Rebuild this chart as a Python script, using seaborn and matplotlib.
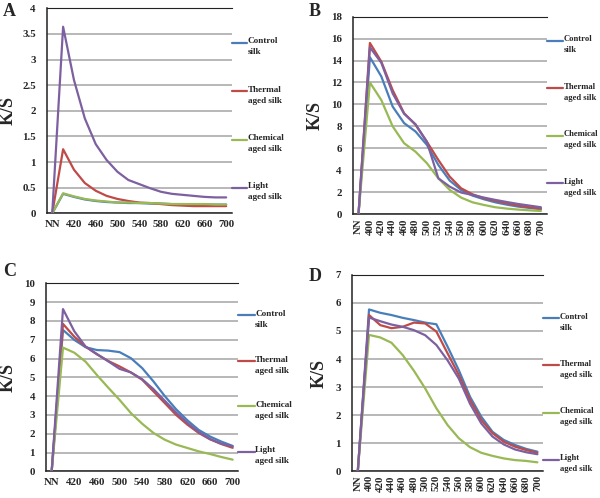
import matplotlib

matplotlib.use("Agg")
import matplotlib.pyplot as plt
import numpy as np
import pandas as pd
import seaborn as sns

# category axis: "NN" then 400..700 nm
WAVELENGTHS = ["NN"] + [str(w) for w in range(400, 701, 20)]
SERIES = ["Control silk", "Thermal aged silk", "Chemical aged silk", "Light aged silk"]
LEGEND_LABELS = ["Control\nsilk", "Thermal\naged silk", "Chemical\naged silk", "Light\naged silk"]
COLORS = ["#4A7EBB", "#BE4B48", "#98B954", "#7D60A0"]

A_CONTROL = [0, 0.38, 0.32, 0.27, 0.24, 0.22, 0.21, 0.20, 0.20, 0.19, 0.19, 0.18, 0.18, 0.17, 0.17, 0.17, 0.17]
A_THERMAL = [0, 1.25, 0.85, 0.59, 0.44, 0.34, 0.28, 0.24, 0.21, 0.20, 0.18, 0.16, 0.15, 0.14, 0.14, 0.14, 0.14]
A_CHEMICAL = [0, 0.39, 0.33, 0.28, 0.25, 0.23, 0.21, 0.21, 0.20, 0.20, 0.19, 0.18, 0.18, 0.18, 0.18, 0.17, 0.17]
A_LIGHT = [0, 3.64, 2.60, 1.85, 1.35, 1.04, 0.81, 0.65, 0.57, 0.49, 0.42, 0.38, 0.36, 0.34, 0.32, 0.31, 0.31]

B_CONTROL = [0, 14.3, 12.55, 9.8, 8.3, 7.54, 6.32, 4.5, 3.07, 2.22, 1.7, 1.37, 1.09, 0.88, 0.70, 0.58, 0.46]
B_THERMAL = [0, 15.6, 13.9, 11.3, 9.2, 8.15, 6.6, 4.95, 3.43, 2.37, 1.82, 1.46, 1.22, 1.0, 0.79, 0.64, 0.52]
B_CHEMICAL = [0, 12.0, 10.4, 8.0, 6.47, 5.7, 4.65, 3.28, 2.22, 1.52, 1.09, 0.85, 0.64, 0.52, 0.43, 0.36, 0.30]
B_LIGHT = [0, 15.2, 13.8, 11.0, 9.15, 8.2, 6.6, 3.28, 2.52, 1.98, 1.76, 1.52, 1.31, 1.12, 0.94, 0.79, 0.64]

C_CONTROL = [0, 7.52, 6.99, 6.6, 6.45, 6.42, 6.34, 6.02, 5.49, 4.78, 4.0, 3.3, 2.71, 2.2, 1.85, 1.58, 1.35]
C_THERMAL = [0, 7.84, 7.16, 6.63, 6.22, 5.87, 5.58, 5.26, 4.87, 4.25, 3.63, 3.0, 2.48, 2.04, 1.7, 1.45, 1.25]
C_CHEMICAL = [0, 6.58, 6.31, 5.83, 5.12, 4.45, 3.8, 3.1, 2.53, 2.04, 1.68, 1.42, 1.24, 1.06, 0.92, 0.76, 0.62]
C_LIGHT = [0, 8.63, 7.45, 6.63, 6.24, 5.85, 5.45, 5.26, 4.9, 4.37, 3.75, 3.13, 2.57, 2.09, 1.72, 1.47, 1.32]

D_CONTROL = [0, 5.77, 5.65, 5.57, 5.47, 5.39, 5.3, 5.24, 4.44, 3.6, 2.65, 1.94, 1.4, 1.11, 0.93, 0.79, 0.69]
D_THERMAL = [0, 5.57, 5.21, 5.1, 5.15, 5.3, 5.27, 4.98, 4.2, 3.43, 2.54, 1.82, 1.35, 1.05, 0.87, 0.75, 0.65]
D_CHEMICAL = [0, 4.86, 4.77, 4.58, 4.14, 3.58, 2.95, 2.24, 1.64, 1.17, 0.85, 0.65, 0.54, 0.45, 0.39, 0.36, 0.31]
D_LIGHT = [0, 5.48, 5.35, 5.23, 5.15, 5.03, 4.85, 4.5, 3.95, 3.3, 2.4, 1.7, 1.23, 0.95, 0.77, 0.67, 0.60]


def long_form(columns):
    frames = []
    for name, vals in zip(SERIES, columns):
        frames.append(pd.DataFrame({"pos": np.arange(len(WAVELENGTHS)), "ks": vals, "series": name}))
    return pd.concat(frames, ignore_index=True)


def draw_panel(fig, rect, letter, letter_xy, columns, ymax, ystep, rotate, legend_top, legend_step,
               ylabel_x, legend_size):
    ax = fig.add_axes(rect)
    df = long_form(columns)
    sns.lineplot(data=df, x="pos", y="ks", hue="series", hue_order=SERIES, palette=COLORS,
                 sort=False, linewidth=1.6, legend=False, ax=ax, zorder=3)
    ax.set_xlim(-0.5, len(WAVELENGTHS) - 0.5)
    ax.set_ylim(0, ymax)
    yt = np.arange(0, ymax + ystep / 2, ystep)
    ax.set_yticks(yt)
    ax.set_yticklabels([f"{v:g}" for v in yt])
    if rotate:
        ax.set_xticks(np.arange(len(WAVELENGTHS)))
        ax.set_xticklabels(WAVELENGTHS, rotation=90, va="top", ha="center")
        ax.tick_params(axis="x", pad=3)
    else:
        ax.set_xticks(np.arange(0, len(WAVELENGTHS), 2))
        ax.set_xticklabels(WAVELENGTHS[::2])
        ax.tick_params(axis="x", pad=5)
    ax.tick_params(axis="both", length=0, labelsize=7.8)
    ax.tick_params(axis="y", pad=8)
    ax.set_xlabel("")
    ax.set_ylabel("K/S", fontsize=13, fontweight="bold")
    ax.yaxis.set_label_coords(ylabel_x, 0.5)
    ax.xaxis.grid(False)
    # horizontal gridlines at every y tick, Excel style
    ax.yaxis.grid(True, color="#ababab", linewidth=1.2, linestyle="-", alpha=1.0)
    ax.set_axisbelow(True)
    for side in ["left", "bottom", "top"]:
        ax.spines[side].set_visible(True)
        ax.spines[side].set_color("#222222")
    ax.spines["left"].set_linewidth(1.1)
    ax.spines["bottom"].set_linewidth(1.1)
    ax.spines["top"].set_linewidth(0.8)
    ax.spines["right"].set_visible(False)

    # legend keys beside the plot, key aligned with first text line
    for i, (lab, col) in enumerate(zip(LEGEND_LABELS, COLORS)):
        y = legend_top - i * legend_step
        ax.plot([1.0, 1.085], [y, y], transform=ax.transAxes, color=col, lw=1.6, clip_on=False)
        ax.text(1.088, y + 0.028, lab, transform=ax.transAxes, fontsize=legend_size, fontweight="bold",
                va="top", ha="left", linespacing=1.5)

    fig.text(letter_xy[0] / 600, 1 - letter_xy[1] / 498, letter, fontsize=13, fontweight="bold",
             va="top", ha="left")
    return ax


def main():
    sns.set_theme(style="whitegrid")
    plt.rcParams["font.family"] = ["Liberation Serif", "DejaVu Serif"]
    plt.rcParams["font.weight"] = "bold"
    fig = plt.figure(figsize=(6.0, 4.98), dpi=100)
    draw_panel(fig, (0.078, 0.5717, 0.308, 0.4116), "A", (3, 3),
               [A_CONTROL, A_THERMAL, A_CHEMICAL, A_LIGHT], 4, 0.5, False, 0.83, 0.235, -0.165, 6.6)
    draw_panel(fig, (0.588, 0.5697, 0.323, 0.397), "B", (309, 3),
               [B_CONTROL, B_THERMAL, B_CHEMICAL, B_LIGHT], 18, 2, True, 0.877, 0.24, -0.15, 6.2)
    draw_panel(fig, (0.0767, 0.0536, 0.3205, 0.3775), "C", (3, 263),
               [C_CONTROL, C_THERMAL, C_CHEMICAL, C_LIGHT], 10, 1, False, 0.83, 0.242, -0.155, 6.6)
    draw_panel(fig, (0.587, 0.0542, 0.318, 0.3936), "D", (309, 268),
               [D_CONTROL, D_THERMAL, D_CHEMICAL, D_LIGHT], 7, 1, True, 0.78, 0.241, -0.127, 6.2)
    fig.savefig("out.png", dpi=100)
    plt.close(fig)


if __name__ == "__main__":
    main()
